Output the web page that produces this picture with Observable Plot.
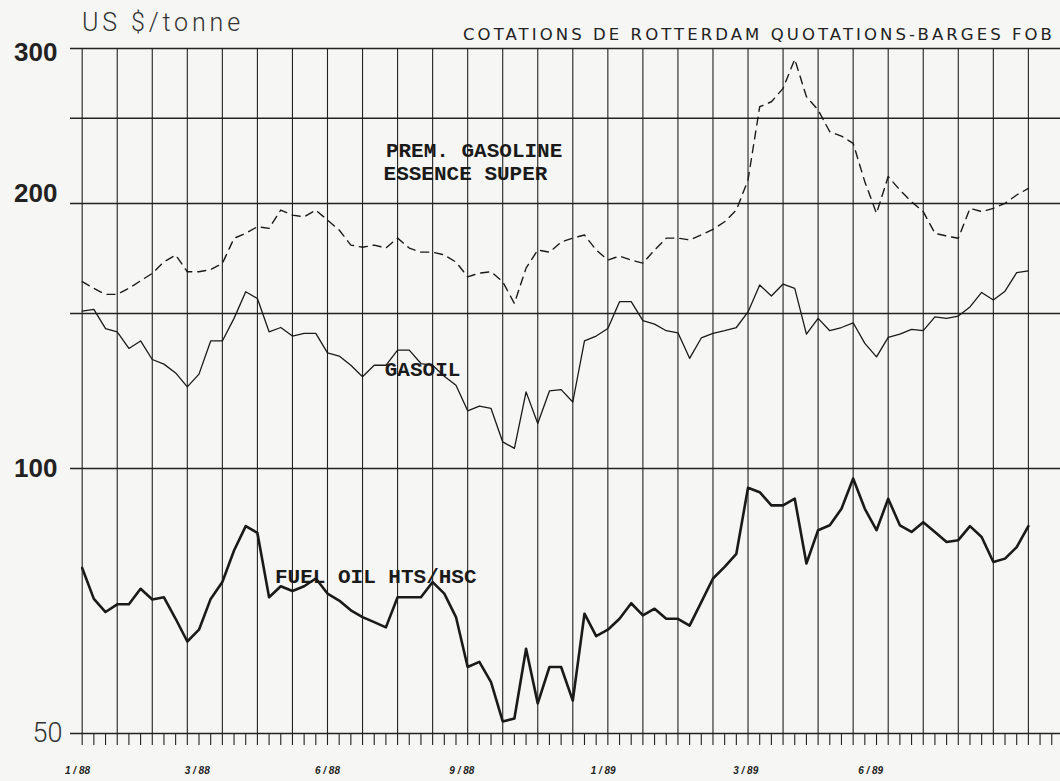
<!DOCTYPE html>
<html><head><meta charset="utf-8">
<script src="https://cdn.jsdelivr.net/npm/d3@7"></script>
<script src="https://cdn.jsdelivr.net/npm/@observablehq/plot@0.6"></script>
<style>
html,body{margin:0;padding:0;background:#f6f6f4;}
#wrap{position:relative;width:1060px;height:781px;overflow:hidden;}
#head{position:relative;height:40px;}
#unit{position:absolute;left:82px;top:8px;font-family:Roboto,"DejaVu Sans",sans-serif;font-weight:300;font-size:25px;line-height:29px;color:#333;white-space:nowrap;}
#title{position:absolute;left:463px;top:25px;font-family:"DejaVu Sans",sans-serif;font-weight:normal;font-size:16.5px;line-height:20px;color:#222;white-space:nowrap;}
svg{display:block;}
</style></head>
<body>
<div id="wrap">
  <div id="head"><span id="unit">US $/tonne</span><span id="title">COTATIONS DE ROTTERDAM QUOTATIONS-BARGES FOB</span></div>
  <div id="chart"></div>
</div>
<script>
// ---- data (one value per period) ----
const gasoline = [163.0,160.2,157.7,157.7,160.2,163.4,166.6,171.7,174.8,167.3,167.3,168.3,171.0,182.6,185.0,188.2,187.4,196.6,194.0,193.2,196.6,191.5,186.6,179.4,178.4,179.4,178.0,182.7,178.0,176.1,176.1,174.8,171.6,165.1,166.7,167.3,163.0,154.0,168.9,177.1,176.1,180.8,182.7,184.2,177.1,172.5,174.3,172.5,171.1,177.1,182.7,182.7,181.8,184.2,186.9,190.7,196.6,212.7,257.6,261.0,270.3,291.7,264.5,255.4,241.3,238.6,234.1,211.7,194.9,214.6,207.2,200.9,195.8,185.0,183.7,182.6,197.5,195.8,197.5,200.1,204.5,208.1];
const gasoil = [150.9,151.6,144.2,143.0,136.9,139.6,133.0,131.4,128.4,123.8,128.0,139.6,139.6,148.1,158.8,156.0,143.0,144.6,141.4,142.4,142.4,135.3,134.2,131.0,127.1,131.0,131.0,136.3,136.3,131.6,131.0,127.3,124.3,116.3,117.7,117.0,107.2,105.4,122.2,112.5,122.5,122.9,119.0,139.6,141.4,144.2,154.7,154.7,147.2,145.9,143.4,142.6,133.4,140.7,142.4,143.4,144.6,150.6,161.6,157.0,162.0,160.2,142.1,148.1,143.4,144.6,146.4,138.7,133.9,140.9,142.1,143.9,143.4,148.7,148.1,149.0,152.6,158.5,155.4,159.0,166.9,167.7];
const fuelOil = [77.1,71.1,68.7,70.1,70.1,73.0,71.0,71.4,67.5,63.6,65.6,71.1,74.3,80.7,86.0,84.5,71.4,73.5,72.6,73.5,75.0,72.1,70.8,69.0,67.8,66.9,66.0,71.4,71.4,71.4,74.3,72.1,67.8,59.5,60.3,57.2,51.6,52.0,62.4,54.1,59.5,59.5,54.5,68.4,64.5,65.6,67.5,70.3,68.1,69.3,67.5,67.5,66.3,70.5,75.0,77.3,80.0,95.1,94.0,90.8,90.8,92.4,78.0,85.1,86.2,90.0,97.4,90.0,85.1,92.4,86.2,84.7,86.9,84.7,82.5,82.9,86.0,83.6,78.3,79.0,81.4,86.0];

// x tick labels (month/year) and where they sit on the period axis
const xLabels = ["1/88","3/88","6/88","9/88","1/89","3/89","6/89"];
const xLabelAt = [-0.4, 9.85, 21, 32.5, 44.6, 56.8, 67.5];
// y axis
const yGrid = [50,100,150,200,250,300];
const yLabels = [300,200,100];
const yLabelMin = [50];
// series labels
const seriesNames = ["PREM. GASOLINE","ESSENCE SUPER","GASOIL","FUEL OIL HTS/HSC"];
const seriesNameAt = [[26.0,230],[25.8,216.6],[25.9,129.7],[16.5,75.4]];

// ---- build ----
const toRows = arr => arr.map((v,i)=>({i, v}));
const periodTicks = d3.range(0, 84);
const gridTicks = periodTicks.filter(i => i % 3 === 0 && i <= 81);
const xLab = xLabels.map((t,k)=>({t: t.replace("/", " / "), x: xLabelAt[k]}));
const names = seriesNames.map((t,k)=>({t, x: seriesNameAt[k][0], y: seriesNameAt[k][1]}));
const yDy = {300: 4, 200: -10, 100: 0};

const labelFont = {fontFamily: "'Liberation Mono', monospace", fontWeight: "bold", fontSize: 21, fill: "#1a1a1a", textAnchor: "start"};

const chart = Plot.plot({
  width: 1060, height: 741,
  marginTop: 8, marginBottom: 48, marginLeft: 70, marginRight: 0,
  style: {background: "transparent", overflow: "visible"},
  x: {type: "linear", domain: [-1, 83.75], axis: null},
  y: {type: "log", domain: [50, 300], axis: null},
  marks: [
    Plot.ruleY(yGrid, {stroke: "#222", strokeWidth: 1.5}),
    Plot.ruleX(gridTicks, {y1: 50, y2: 300, stroke: "#222", strokeWidth: 1.1}),
    Plot.axisX(periodTicks, {tickSize: 12, tickFormat: () => "", label: null, stroke: "#222", strokeWidth: 1.1}),
    Plot.line(toRows(gasoline), {x: "i", y: "v", stroke: "#1a1a1a", strokeWidth: 1.4, strokeDasharray: "8,6"}),
    Plot.line(toRows(gasoil), {x: "i", y: "v", stroke: "#1a1a1a", strokeWidth: 1.3}),
    Plot.line(toRows(fuelOil), {x: "i", y: "v", stroke: "#1a1a1a", strokeWidth: 2.6}),
    Plot.text(names, {x: "x", y: "y", text: "t", ...labelFont}),
    ...yLabels.map(v => Plot.text([v], {x: -1, y: d => d, text: d => String(d), textAnchor: "end", dx: -13, dy: yDy[v],
      fontFamily: "'Liberation Sans', sans-serif", fontWeight: "bold", fontSize: 26, fill: "#222"})),
    Plot.text(yLabelMin, {x: -1, y: d => d, text: d => String(d), textAnchor: "end", dx: -8,
      fontFamily: "Roboto, 'Liberation Sans', sans-serif", fontWeight: 300, fontSize: 27, fill: "#333"}),
    Plot.text(xLab, {x: "x", text: "t", frameAnchor: "bottom", dy: 40, fontStyle: "italic", fontWeight: "bold",
      fontSize: 10, fontFamily: "'Liberation Sans', sans-serif", fill: "#222"})
  ]
});
document.getElementById("chart").appendChild(chart);

// fit header texts to their widths in the original
function fit(id, target){
  const el = document.getElementById(id);
  const n = el.textContent.length;
  const w = el.getBoundingClientRect().width;
  el.style.letterSpacing = ((target - w) / n) + "px";
}
fit("title", 592);
fit("unit", 162);
</script>
</body></html>
